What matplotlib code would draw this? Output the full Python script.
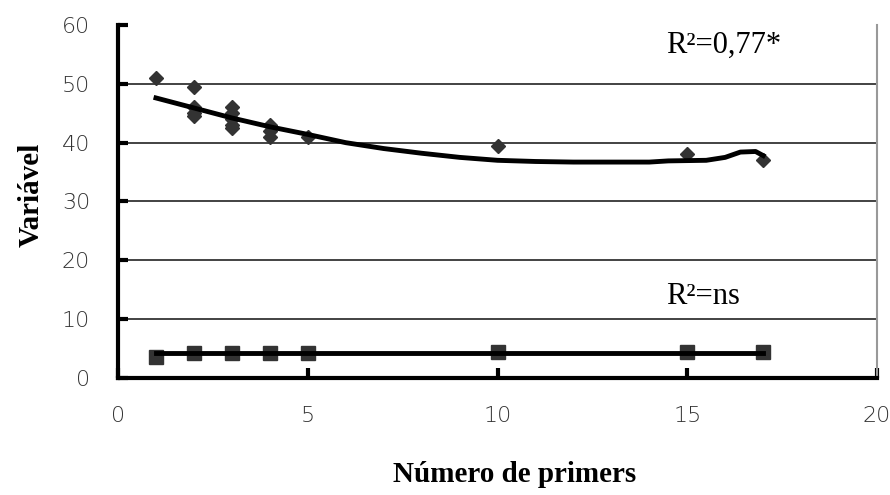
import matplotlib.pyplot as plt

# pontos observados (losangos)
x_diam = [1, 2, 2, 2, 2, 3, 3, 3, 3, 3, 4, 4, 4, 5, 10, 15, 17]
y_diam = [51, 49.5, 46, 45, 44.5, 46, 45, 44, 43, 42.5, 43, 42, 41, 41, 39.5, 38, 37]

# curva ajustada
x_curve = [1, 2, 3, 4, 5, 6, 7, 8, 9, 10, 11, 12, 13, 14, 14.5, 15.5, 16, 16.4, 16.8, 17]
y_curve = [47.6, 45.9, 44.2, 42.7, 41.4, 40.0, 39.0, 38.2, 37.5, 37.0, 36.8, 36.7, 36.7, 36.7,
           36.9, 37.0, 37.5, 38.4, 38.5, 37.8]

# segunda variavel (quadrados)
x_sq = [1, 2, 3, 4, 5, 10, 15, 17]
y_sq = [3.5, 4.3, 4.3, 4.3, 4.3, 4.4, 4.4, 4.4]
x_sq_line = [1, 17]
y_sq_line = [4.2, 4.2]

fig = plt.figure(figsize=(8.9, 4.95), dpi=100)
ax = fig.add_axes([0.1326, 0.2364, 0.8528, 0.7131])

for yv in [10, 20, 30, 40, 50]:
    ax.axhline(yv, color='#222222', lw=1.2, zorder=1)

ax.plot(x_diam, y_diam, 'D', color='#333333', ms=7, zorder=3)
ax.plot(x_curve, y_curve, color='black', lw=3.5, zorder=4)
ax.plot(x_sq, y_sq, 's', color='#333333', ms=10, zorder=3)
ax.plot(x_sq_line, y_sq_line, color='black', lw=3.5, zorder=4)

ax.set_xlim(0, 20)
ax.set_ylim(0, 60)
ax.set_xticks([0, 5, 10, 15, 20])
ax.set_yticks([0, 10, 20, 30, 40, 50, 60])

for s in ['left', 'bottom']:
    ax.spines[s].set_linewidth(3)
ax.spines['top'].set_visible(False)
ax.spines['right'].set_color('#999999')
ax.spines['right'].set_linewidth(1.5)

ax.tick_params(direction='in', length=7, width=3, labelsize=16, labelcolor='#333333')
ax.tick_params(axis='x', pad=20)
ax.tick_params(axis='y', pad=20)
for lab in ax.get_xticklabels() + ax.get_yticklabels():
    lab.set_family('DejaVu Sans')
    lab.set_fontweight('light')

ax.set_xlabel('Número de primers', family='Liberation Serif', fontweight='bold',
              fontsize=21)
ax.set_ylabel('Variável', family='Liberation Serif', fontweight='bold',
              fontsize=21)
ax.xaxis.set_label_coords(0.522, -0.235)
ax.yaxis.set_label_coords(-0.097, 0.52)

ax.text(14.45, 56.6, 'R²=0,77*', family='Liberation Serif', fontsize=22,
        ha='left', va='center')
ax.text(14.45, 13.8, 'R²=ns', family='Liberation Serif', fontsize=22,
        ha='left', va='center')

fig.savefig('out.png', dpi=100)
